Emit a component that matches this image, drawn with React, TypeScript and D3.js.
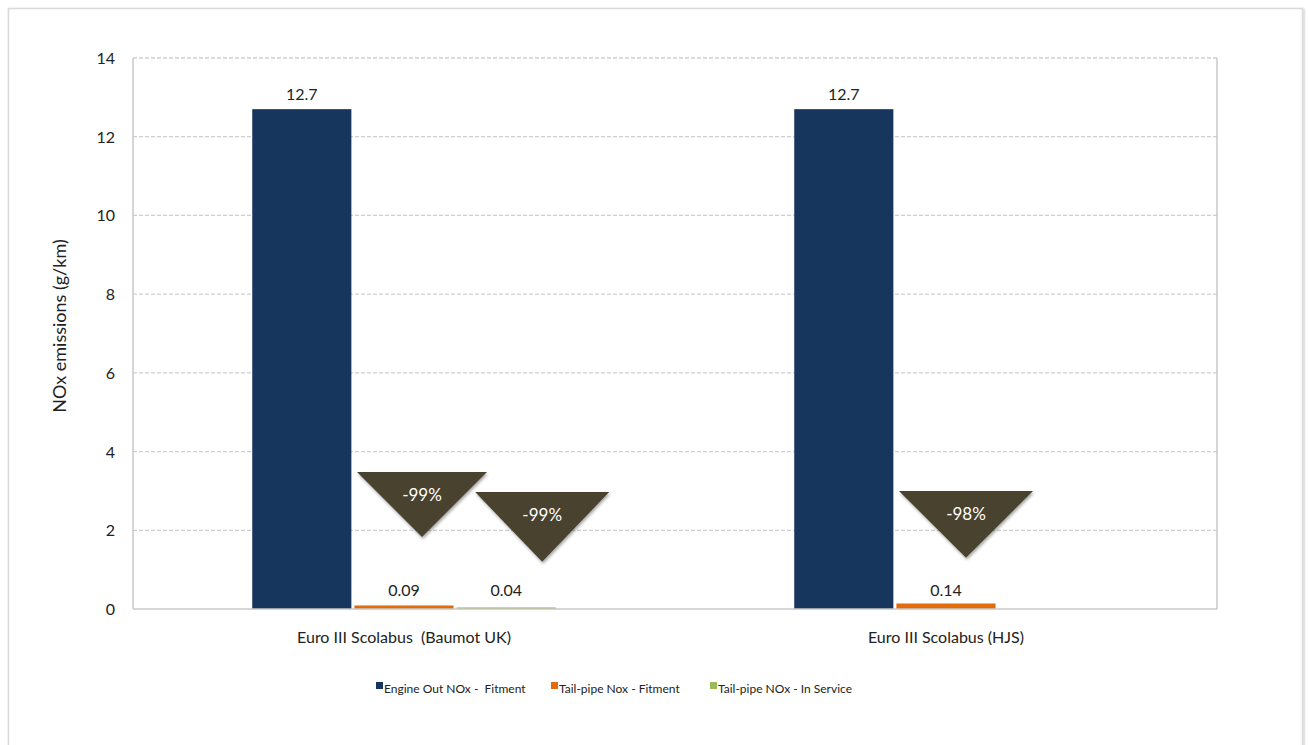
import React from "react";
import * as d3 from "d3";

const categories = ["Euro III Scolabus  (Baumot UK)", "Euro III Scolabus (HJS)"];
const seriesNames = ["Engine Out NOx -  Fitment", "Tail-pipe Nox - Fitment", "Tail-pipe NOx - In Service"];
const seriesColors = ["#17365d", "#e36c09", "#9bbb59"];
const engineOut = [12.7, 12.7];
const tailFitment = [0.09, 0.14];
const tailService: (number | null)[] = [0.04, null];
const yTicks = [0, 2, 4, 6, 8, 10, 12, 14];
// annotations: category index, series index, label, top value, apex value
const annoCat = [0, 0, 1];
const annoSeries = [1, 2, 1];
const annoLabel = ["-99%", "-99%", "-98%"];
const annoTop = [3.48, 2.97, 3.0];
const annoApex = [1.83, 1.2, 1.3];

const W = 1308, H = 745;
const m = { left: 133, top: 58, right: 1217, bottom: 609 };
const FONT = "Lato, 'Open Sans', 'DejaVu Sans', sans-serif";

export default function App() {
  const x0 = d3.scaleBand().domain(categories).range([m.left, m.right]).paddingInner(0.44).paddingOuter(0.22);
  const x1 = d3.scaleBand().domain(seriesNames).range([0, x0.bandwidth()]).paddingInner(0.03);
  const y = d3.scaleLinear().domain([0, 14]).range([m.bottom, m.top]);
  const series = [engineOut, tailFitment, tailService];
  const annoOffsets = [18, 36, 20];
  const annoHalfW = [65, 67, 67];

  return (
    <svg width={W} height={H} style={{ position: "absolute", left: 0, top: 0 }} fontFamily={FONT}>
      <defs>
        <filter id="sh" x="-20%" y="-20%" width="140%" height="150%">
          <feDropShadow dx="1" dy="2" stdDeviation="1.5" floodColor="#000" floodOpacity="0.35" />
        </filter>
        <filter id="fsh" x="-5%" y="-5%" width="110%" height="110%">
          <feDropShadow dx="1" dy="1" stdDeviation="1.2" floodColor="#000" floodOpacity="0.25" />
        </filter>
      </defs>
      <rect x={0} y={0} width={W} height={H} fill="#fff" />
      <rect x={8.5} y={8.5} width={1294} height={760} fill="#fff" stroke="#d9d9d9" strokeWidth={1.5} filter="url(#fsh)" />

      {yTicks.map((t) => (
        <g key={t}>
          {t > 0 && (
            <line x1={m.left} x2={m.right} y1={y(t)} y2={y(t)} stroke="#cfcfcf" strokeWidth={1.3} strokeDasharray="4 2" />
          )}
          <text x={115} y={y(t) + 6} textAnchor="end" fontSize={16} fill="#222">{t}</text>
        </g>
      ))}
      <line x1={m.left} x2={m.left} y1={m.top} y2={m.bottom} stroke="#c8c8c8" strokeWidth={1.5} />
      <line x1={m.right} x2={m.right} y1={m.top} y2={m.bottom} stroke="#c8c8c8" strokeWidth={1.5} />

      {categories.map((c, ci) =>
        series.map((s, si) => {
          const v = s[ci];
          if (v == null) return null;
          const bx = (x0(c) as number) + (x1(seriesNames[si]) as number);
          return (
            <g key={c + si}>
              <rect x={bx} y={y(v)} width={x1.bandwidth()} height={y(0) - y(v)} fill={seriesColors[si]} />
              <text x={bx + x1.bandwidth() / 2} y={v > 1 ? y(v) - 9 : y(0) - 13} textAnchor="middle" fontSize={16} fill="#222">
                {v}
              </text>
            </g>
          );
        })
      )}
      <line x1={m.left} x2={m.right} y1={m.bottom} y2={m.bottom} stroke="#c8c8c8" strokeWidth={1.5} />

      {categories.map((c) => (
        <text key={c} x={(x0(c) as number) + x0.bandwidth() / 2} y={643} textAnchor="middle" fontSize={16} fill="#222" style={{ whiteSpace: "pre" }}>
          {c}
        </text>
      ))}

      {annoLabel.map((lab, i) => {
        const bx = (x0(categories[annoCat[i]]) as number) + (x1(seriesNames[annoSeries[i]]) as number) + x1.bandwidth() / 2 + annoOffsets[i];
        const yt = y(annoTop[i]);
        const ya = y(annoApex[i]);
        const hw = annoHalfW[i];
        return (
          <g key={i}>
            <path d={`M${bx - hw},${yt}L${bx + hw},${yt}L${bx},${ya}Z`} fill="#4a432d" filter="url(#sh)" />
            <text x={bx} y={yt + 29} textAnchor="middle" fontSize={17} fill="#fff">{lab}</text>
          </g>
        );
      })}

      <text transform={`translate(66,326) rotate(-90)`} textAnchor="middle" fontSize={18} fill="#222">
        NOx emissions (g/km)
      </text>

      {seriesNames.map((n, i) => {
        const lx = [376, 551, 710][i];
        return (
          <g key={n}>
            <rect x={lx} y={682} width={7} height={7} fill={seriesColors[i]} />
            <text x={lx + 8} y={693} fontSize={12} fill="#222" style={{ whiteSpace: "pre" }}>{n}</text>
          </g>
        );
      })}
    </svg>
  );
}
